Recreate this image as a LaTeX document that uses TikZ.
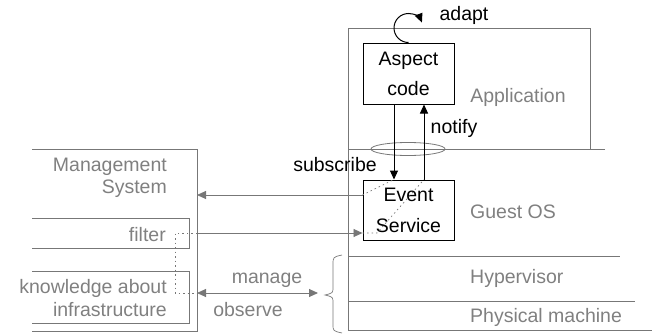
\documentclass[tikz,border=0pt]{standalone}
\usepackage{fontspec}
\setmainfont{Liberation Sans}
\usetikzlibrary{shapes.geometric,arrows.meta}
\definecolor{lgray}{HTML}{777777}
\definecolor{tgray}{HTML}{808080}
\begin{document}
\begin{tikzpicture}[x=1pt,y=-1pt,
  every node/.style={font=\fontsize{19.5}{22}\selectfont, inner sep=0pt},
  layer/.style={draw=lgray, line width=0.8pt},
  graytext/.style={text=tgray},
  blackbox/.style={draw=black, line width=1pt, rectangle, align=center, inner sep=0pt},
  blackarrow/.style={draw=black, line width=1pt, -{Triangle[length=9pt,width=8pt]}},
  grayarrow/.style={draw=lgray, line width=0.9pt, -{Triangle[length=9pt,width=8pt]}},
  dots/.style={draw=lgray, line width=0.7pt, dash pattern=on 1.5pt off 3pt}]
\useasboundingbox (0,0) rectangle (654,335);

% layers on the right
\draw[layer] (605,149) -- (348,149) -- (348,28) -- (590,28) -- (590,149);
\draw[layer] (348,149) -- (348,330) -- (652,330);
\draw[layer] (348,256) -- (620,256);
\draw[layer] (348,301) -- (635,301);

\node[graytext] (app) at (518,97) {Application};
\node[graytext, anchor=west] (gos) at (470,212) {Guest OS};
\node[graytext, anchor=west] (hyp) at (470,278) {Hypervisor};
\node[graytext, anchor=west] (phm) at (470,317) {Physical machine};

% boxes
\node[blackbox, minimum width=91pt, minimum height=61pt,
      font=\fontsize{19.5}{30}\selectfont] (asp) at (408.5,73.5) {Aspect\\code};
\node[blackbox, minimum width=91pt, minimum height=60pt,
      font=\fontsize{19.5}{31}\selectfont] (evt) at (408.5,210) {Event\\Service};
\node[draw=lgray, line width=0.8pt, ellipse, minimum width=74pt, minimum height=13pt, fill=none] (ell) at (408,149) {};

% subscribe / notify
\draw[blackarrow] ([xshift=-14.5pt]asp.south) -- ([xshift=-14.5pt]evt.north);
\draw[blackarrow] ([xshift=15.5pt]evt.north) -- ([xshift=15.5pt]asp.south);
\node (sub) at (335,165) {subscribe};
\node (ntf) at (454,128) {notify};

% adapt
\draw[blackarrow] (asp.north) arc[start angle=90, end angle=338, radius=14.5];
\node (adp) at (464,15) {adapt};

% management system
\draw[layer] (32,149) -- (197,149) -- (197,331) -- (32,331);
\draw[layer] (32,218) -- (189,218) -- (189,248) -- (32,248);
\draw[layer] (32,271) -- (189,271) -- (189,323) -- (32,323);
\node[graytext, align=right, anchor=east] (ms) at (167,177.5) {Management\\System};
\node[graytext, anchor=east] (flt) at (166,235) {filter};
\node[graytext, align=right, anchor=east, font=\fontsize{19.5}{23}\selectfont] (kai) at (167,298.5) {knowledge about\\infrastructure};

\coordinate (m1) at (197,195);
\coordinate (m2) at (197,233);
\coordinate (m3) at (197,293);
\coordinate (bt) at (318,293);

\draw[grayarrow] (evt.west |- m1) -- (m1);
\draw[grayarrow] (m2) -- (evt.west |- m2);
\draw[draw=lgray, line width=0.9pt, {Triangle[length=9pt,width=8pt]}-{Triangle[length=9pt,width=8pt]}] (m3) -- (bt);
\node (mng) at (267,280) {\textcolor{tgray}{manage}};
\node (obs) at (248,310) {\textcolor{tgray}{observe}};

% dotted connections
\draw[dots] (m2) -- (175,233) -- (175,293) -- (m3);
\draw[dots] (evt.west |- m1) -- ([xshift=-14.5pt]evt.north);
\draw[dots] (evt.west |- m2) -- (377,233) -- ([xshift=15.5pt]evt.north);

% brace
\draw[draw=lgray, line width=0.7pt] (342,255) .. controls (333,257) .. (333,265) -- (333,287)
  .. controls (333,293) .. (325,295) .. controls (333,297) .. (333,303) -- (333,324)
  .. controls (333,331) .. (342,333);
\end{tikzpicture}
\end{document}
